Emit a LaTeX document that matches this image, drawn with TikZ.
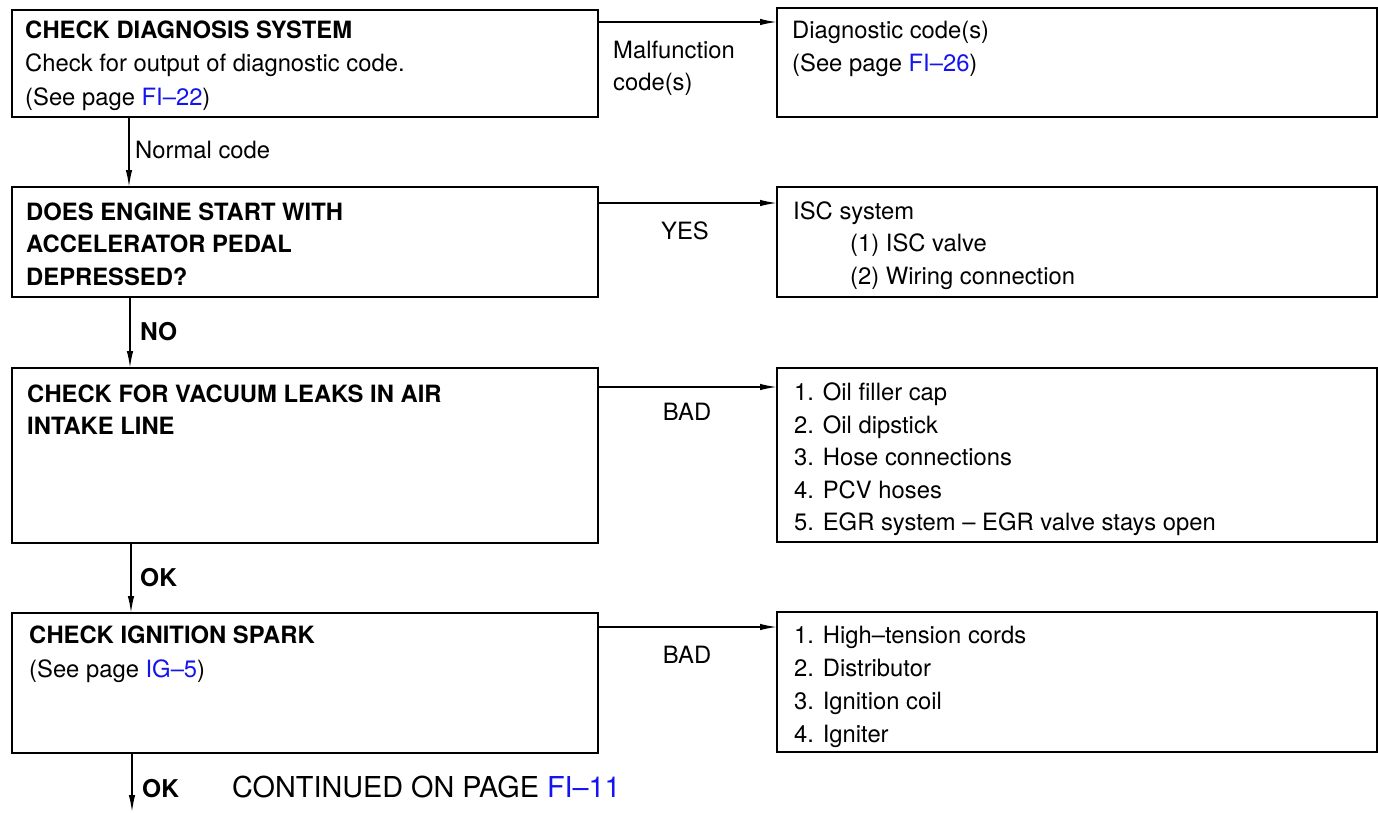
\documentclass[tikz,border=0pt]{standalone}
\usepackage{fontspec}
\setmainfont{TeX Gyre Heros}
\usetikzlibrary{arrows.meta}
\definecolor{linkblue}{RGB}{20,20,240}
\newcommand{\lnk}[1]{\textcolor{linkblue}{#1}}
\begin{document}
\begin{tikzpicture}[x=1pt,y=-1pt,
  box/.style={draw, line width=2.7pt, anchor=north west, inner sep=0pt, outer sep=0pt},
  txt/.style={anchor=base west, inner sep=0pt, font=\fontsize{23.8}{30}\selectfont},
  lbl/.style={anchor=base west, inner sep=0pt, font=\fontsize{24.5}{30}\selectfont\bfseries},
  big/.style={anchor=base west, inner sep=0pt, font=\fontsize{28.8}{34}\selectfont},
  mid/.style={anchor=base, inner sep=0pt, font=\fontsize{23.8}{30}\selectfont},
  arr/.style={line width=1.5pt, -{Latex[length=17pt,width=6.5pt]}}]
\useasboundingbox (0,0) rectangle (1378,812);
% left boxes
\node[box, minimum width=586pt, minimum height=107pt] (b1) at (12,10) {};
\node[box, minimum width=586pt, minimum height=110pt] (b2) at (12,187) {};
\node[box, minimum width=586pt, minimum height=175pt] (b3) at (12,368) {};
\node[box, minimum width=586pt, minimum height=140pt] (b4) at (12,613) {};
% right boxes
\node[box, minimum width=600pt, minimum height=109pt] (r1) at (777,8) {};
\node[box, minimum width=600pt, minimum height=110pt] (r2) at (777,187) {};
\node[box, minimum width=600pt, minimum height=174pt] (r3) at (777,368) {};
\node[box, minimum width=600pt, minimum height=140pt] (r4) at (777,612) {};
% texts box 1
\node[txt] (t11) at (25,38) {\bfseries CHECK DIAGNOSIS SYSTEM};
\node[txt] (t12) at (25,71.5) {Check for output of diagnostic code.};
\node[txt] (t13) at (25,105) {(See page \lnk{FI–22})};
\node[txt] (u11) at (792,38) {Diagnostic code(s)};
\node[txt] (u12) at (792,71.5) {(See page \lnk{FI–26})};
\node[txt] (m1) at (613,58) {Malfunction};
\node[txt] (m2) at (613,90) {code(s)};
% box 2
\node[txt] (t21) at (26,220) {\bfseries DOES ENGINE START WITH};
\node[txt] (t22) at (26,252.5) {\bfseries ACCELERATOR PEDAL};
\node[txt] (t23) at (26,285) {\bfseries DEPRESSED?};
\node[txt] (u21) at (793,219) {ISC system};
\node[txt] (u22) at (850,251.5) {(1) ISC valve};
\node[txt] (u23) at (850,284) {(2) Wiring connection};
\node[mid] (yes) at (685,239) {YES};
% box 3
\node[txt] (t31) at (27,402) {\bfseries CHECK FOR VACUUM LEAKS IN AIR};
\node[txt] (t32) at (27,434) {\bfseries INTAKE LINE};
\node[txt] (u31) at (794,400) {1. Oil filler cap};
\node[txt] (u32) at (794,433) {2. Oil dipstick};
\node[txt] (u33) at (794,465) {3. Hose connections};
\node[txt] (u34) at (794,498) {4. PCV hoses};
\node[txt] (u35) at (794,530) {5. EGR system – EGR valve stays open};
\node[mid] (bad1) at (687,420) {BAD};
% box 4
\node[txt] (t41) at (29,643) {\bfseries CHECK IGNITION SPARK};
\node[txt] (t42) at (29,677) {(See page \lnk{IG–5})};
\node[txt] (u41) at (794,643) {1. High–tension cords};
\node[txt] (u42) at (794,676) {2. Distributor};
\node[txt] (u43) at (794,709) {3. Ignition coil};
\node[txt] (u44) at (794,742) {4. Igniter};
\node[mid] (bad2) at (687,663) {BAD};
% vertical labels
\node[txt] (normal) at (135,158) {Normal code};
\node[lbl] (no) at (140,340) {NO};
\node[lbl] (ok1) at (140,586) {OK};
\node[lbl] (ok2) at (142,797) {OK};
\node[big] (cont) at (232,797) {CONTINUED ON PAGE \lnk{FI–11}};
% horizontal arrows
\draw[arr] ([yshift=-12pt]b1.north east) -- ([yshift=-12pt]b1.north east -| r1.west);
\draw[arr] ([yshift=-16pt]b2.north east) -- ([yshift=-16pt]b2.north east -| r2.west);
\draw[arr] ([yshift=-19pt]b3.north east) -- ([yshift=-19pt]b3.north east -| r3.west);
\draw[arr] ([yshift=-14pt]b4.north east) -- ([yshift=-14pt]b4.north east -| r4.west);
% vertical arrows
\draw[arr] ([xshift=117pt]b1.south west) -- ([xshift=117pt]b1.south west |- b2.north);
\draw[arr] ([xshift=118pt]b2.south west) -- ([xshift=118pt]b2.south west |- b3.north);
\draw[arr] ([xshift=119pt]b3.south west) -- ([xshift=119pt]b3.south west |- b4.north);
\coordinate (endpt) at (132,812);
\draw[arr] ([xshift=120pt]b4.south west) -- (endpt);
\end{tikzpicture}
\end{document}
